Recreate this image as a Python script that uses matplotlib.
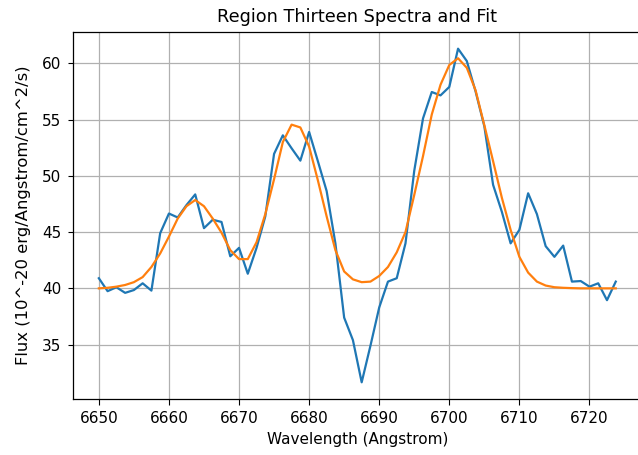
import numpy as np
import matplotlib
matplotlib.use("Agg")
import matplotlib.pyplot as plt

# Wavelength grid (Angstrom), 1.25 A sampling
wavelength = 6650 + 1.25 * np.arange(60)

# Observed flux (10^-20 erg/Angstrom/cm^2/s)
flux = [
    40.9, 39.75, 40.1, 39.6, 39.85, 40.45, 39.8, 44.9, 46.65, 46.3,
    47.4, 48.35, 45.35, 46.1, 45.9, 42.85, 43.6, 41.3, 43.6, 46.4,
    51.95, 53.6, 52.45, 51.35, 53.9, 51.3, 48.65, 44.0, 37.4, 35.4,
    31.65, 34.9, 38.3, 40.6, 40.9, 44.0, 50.45, 55.1, 57.45, 57.15,
    57.9, 61.3, 60.2, 57.5, 54.4, 49.2, 46.8, 44.0, 45.2, 48.45,
    46.6, 43.75, 42.8, 43.8, 40.6, 40.65, 40.15, 40.45, 38.95, 40.6,
]

# Fitted model evaluated on the same grid
fit = [
    40.0, 40.05, 40.15, 40.3, 40.55, 41.0, 41.9, 43.1, 44.6, 46.2,
    47.3, 47.85, 47.3, 46.2, 44.95, 43.4, 42.6, 42.6, 44.1, 46.6,
    49.7, 53.0, 54.55, 54.3, 52.6, 49.6, 46.4, 43.4, 41.5, 40.8,
    40.55, 40.6, 41.1, 41.9, 43.2, 45.0, 48.3, 51.75, 55.45, 58.1,
    59.85, 60.45, 59.6, 57.6, 54.5, 51.3, 48.05, 45.2, 42.8, 41.4,
    40.6, 40.25, 40.1, 40.05, 40.02, 40.0, 40.0, 40.0, 40.0, 40.0,
]

plt.rcParams.update({
    "xtick.labelsize": 11,
    "ytick.labelsize": 11,
    "xtick.major.size": 4.2,
    "ytick.major.size": 3.5,
    "xtick.major.pad": 4.2,
    "ytick.major.pad": 5.0,
    "lines.linewidth": 1.6,
    "grid.linewidth": 0.9,
    "axes.linewidth": 0.9,
})

fig = plt.figure(figsize=(6.38, 4.55), dpi=100)
ax = fig.add_axes([73 / 638, 56 / 455, (641.6 - 73) / 638, (399 - 32) / 455])

ax.plot(wavelength, flux, color="tab:blue")
ax.plot(wavelength, fit, color="tab:orange")
ax.grid(True)

ax.set_title("Region Thirteen Spectra and Fit", fontsize=12.7, pad=7.2)
ax.set_xlabel("Wavelength (Angstrom)", fontsize=11, labelpad=4.8)
ax.set_ylabel("Flux (10^-20 erg/Angstrom/cm^2/s)", fontsize=11.8)
ax.yaxis.set_label_coords((31 - 73) / (641.6 - 73), 0.5)

fig.savefig("out.png", dpi=100)
